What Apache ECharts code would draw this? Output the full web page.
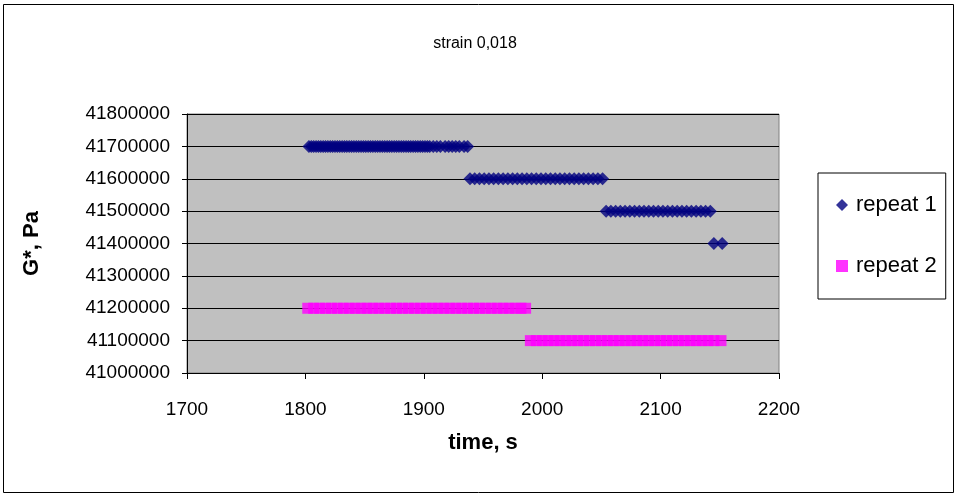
<!DOCTYPE html>
<html><head><meta charset="utf-8">
<script src="https://cdn.jsdelivr.net/npm/echarts@6/dist/echarts.min.js"></script>
<style>html,body{margin:0;padding:0;background:#fff}#c{width:957px;height:495px}</style>
</head><body><div id="c"></div>
<script>
// ---- data ----
const xTicks = [1700, 1800, 1900, 2000, 2100, 2200];
const yTicks = [41000000, 41100000, 41200000, 41300000, 41400000, 41500000, 41600000, 41700000, 41800000];

// repeat 1 (time in s at each G* level)
const rep1Levels = [41700000, 41600000, 41500000, 41400000];
const rep1Times41700000 = [1803,1805,1807,1809,1811,1813,1815,1817,1819,1821,1823,1825,1827,1829,1831,1833,1835,1837,1839,1841,1843,1845,1847,1849,1851,1853,1855,1857,1859,1861,1863,1865,1867,1869,1871,1873,1875,1877,1879,1881,1883,1885,1887,1889,1891,1893,1895,1897,1899,1901,1903,1905,1908,1911,1914,1918,1921,1924,1927,1930,1934,1937];
const rep1Times41600000 = [1939,1943,1947,1951,1955,1959,1963,1967,1971,1975,1979,1983,1987,1991,1995,1999,2003,2007,2011,2015,2019,2023,2027,2031,2035,2039,2043,2047,2051];
const rep1Times41500000 = [2054,2058,2062,2066,2070,2074,2078,2082,2086,2090,2094,2098,2102,2106,2110,2114,2118,2122,2126,2130,2134,2138,2142];
const rep1Times41400000 = [2145,2152];

// repeat 2
const rep2Levels = [41200000, 41100000];
const rep2Times41200000 = [1802,1807,1812,1817,1822,1827,1832,1837,1842,1847,1852,1857,1862,1867,1872,1877,1882,1887,1892,1897,1902,1907,1912,1917,1922,1927,1932,1937,1942,1947,1952,1957,1962,1967,1972,1977,1982,1986];
const rep2Times41100000 = [1990,1995,2000,2005,2010,2015,2020,2025,2030,2035,2040,2045,2050,2055,2060,2065,2070,2075,2080,2085,2090,2095,2100,2105,2110,2115,2120,2125,2130,2135,2140,2145,2151];

// ---- build ----
const rep1TimeGroups = [rep1Times41700000, rep1Times41600000, rep1Times41500000, rep1Times41400000];
const rep2TimeGroups = [rep2Times41200000, rep2Times41100000];
const rep1Data = [], rep2Data = [];
rep1TimeGroups.forEach((g, i) => g.forEach(t => rep1Data.push([t, rep1Levels[i]])));
rep2TimeGroups.forEach((g, i) => g.forEach(t => rep2Data.push([t, rep2Levels[i]])));

const FONT = '"Liberation Sans", Arial, sans-serif';
const chart = echarts.init(document.getElementById('c'), null, {renderer: 'canvas'});
chart.setOption({
  animation: false,
  backgroundColor: '#ffffff',
  textStyle: {fontFamily: FONT},
  title: {
    text: 'strain 0,018', left: 470, top: 31, textAlign: 'center',
    textStyle: {fontFamily: FONT, fontSize: 16, fontWeight: 'normal', color: '#000'}
  },
  graphic: [{
    type: 'rect', silent: true, z: -1,
    shape: {x: 3.5, y: 4.5, width: 950, height: 488},
    style: {fill: 'none', stroke: '#000', lineWidth: 1}
  }],
  legend: {
    orient: 'vertical', left: 818, top: 173,
    padding: [21, 9, 22, 18], itemGap: 39,
    itemWidth: 12, itemHeight: 12,
    borderColor: '#000', borderWidth: 1,
    textStyle: {fontFamily: FONT, fontSize: 22, color: '#000', padding: [0, 0, 0, 3]},
    data: [{name: 'repeat 1', icon: 'diamond'}, {name: 'repeat 2', icon: 'rect'}]
  },
  grid: {
    left: 187, right: 178, top: 114, bottom: 122,
    show: true, backgroundColor: '#c0c0c0', borderColor: '#808080', borderWidth: 1
  },
  xAxis: {
    type: 'value', min: xTicks[0], max: xTicks[xTicks.length - 1], interval: 100,
    name: 'time, s', nameLocation: 'middle', nameGap: 59,
    nameTextStyle: {fontFamily: FONT, fontSize: 22, fontWeight: 'bold', color: '#000'},
    axisLine: {show: true, onZero: false, lineStyle: {color: '#000', width: 1}},
    axisTick: {show: true, inside: false, length: 6, lineStyle: {color: '#000'}},
    axisLabel: {fontFamily: FONT, fontSize: 19, color: '#000', margin: 27, formatter: v => String(v)},
    splitLine: {show: false}
  },
  yAxis: {
    type: 'value', min: yTicks[0], max: yTicks[yTicks.length - 1], interval: 100000,
    name: 'G*, Pa', nameLocation: 'middle', nameGap: 144, nameRotate: 90,
    nameTextStyle: {fontFamily: FONT, fontSize: 22, fontWeight: 'bold', color: '#000'},
    axisLine: {show: true, onZero: false, lineStyle: {color: '#000', width: 1}},
    axisTick: {show: true, inside: false, length: 5, lineStyle: {color: '#000'}},
    axisLabel: {fontFamily: FONT, fontSize: 19, color: '#000', margin: 17, formatter: v => String(v)},
    splitLine: {show: true, lineStyle: {color: '#000', width: 1}}
  },
  series: [
    {name: 'repeat 1', type: 'scatter', symbol: 'diamond', symbolSize: 13,
     itemStyle: {color: '#000080'}, data: rep1Data, z: 3},
    {name: 'repeat 2', type: 'scatter', symbol: 'rect', symbolSize: 11,
     itemStyle: {color: '#ff00ff'}, data: rep2Data, z: 2}
  ]
});
</script>
</body></html>
